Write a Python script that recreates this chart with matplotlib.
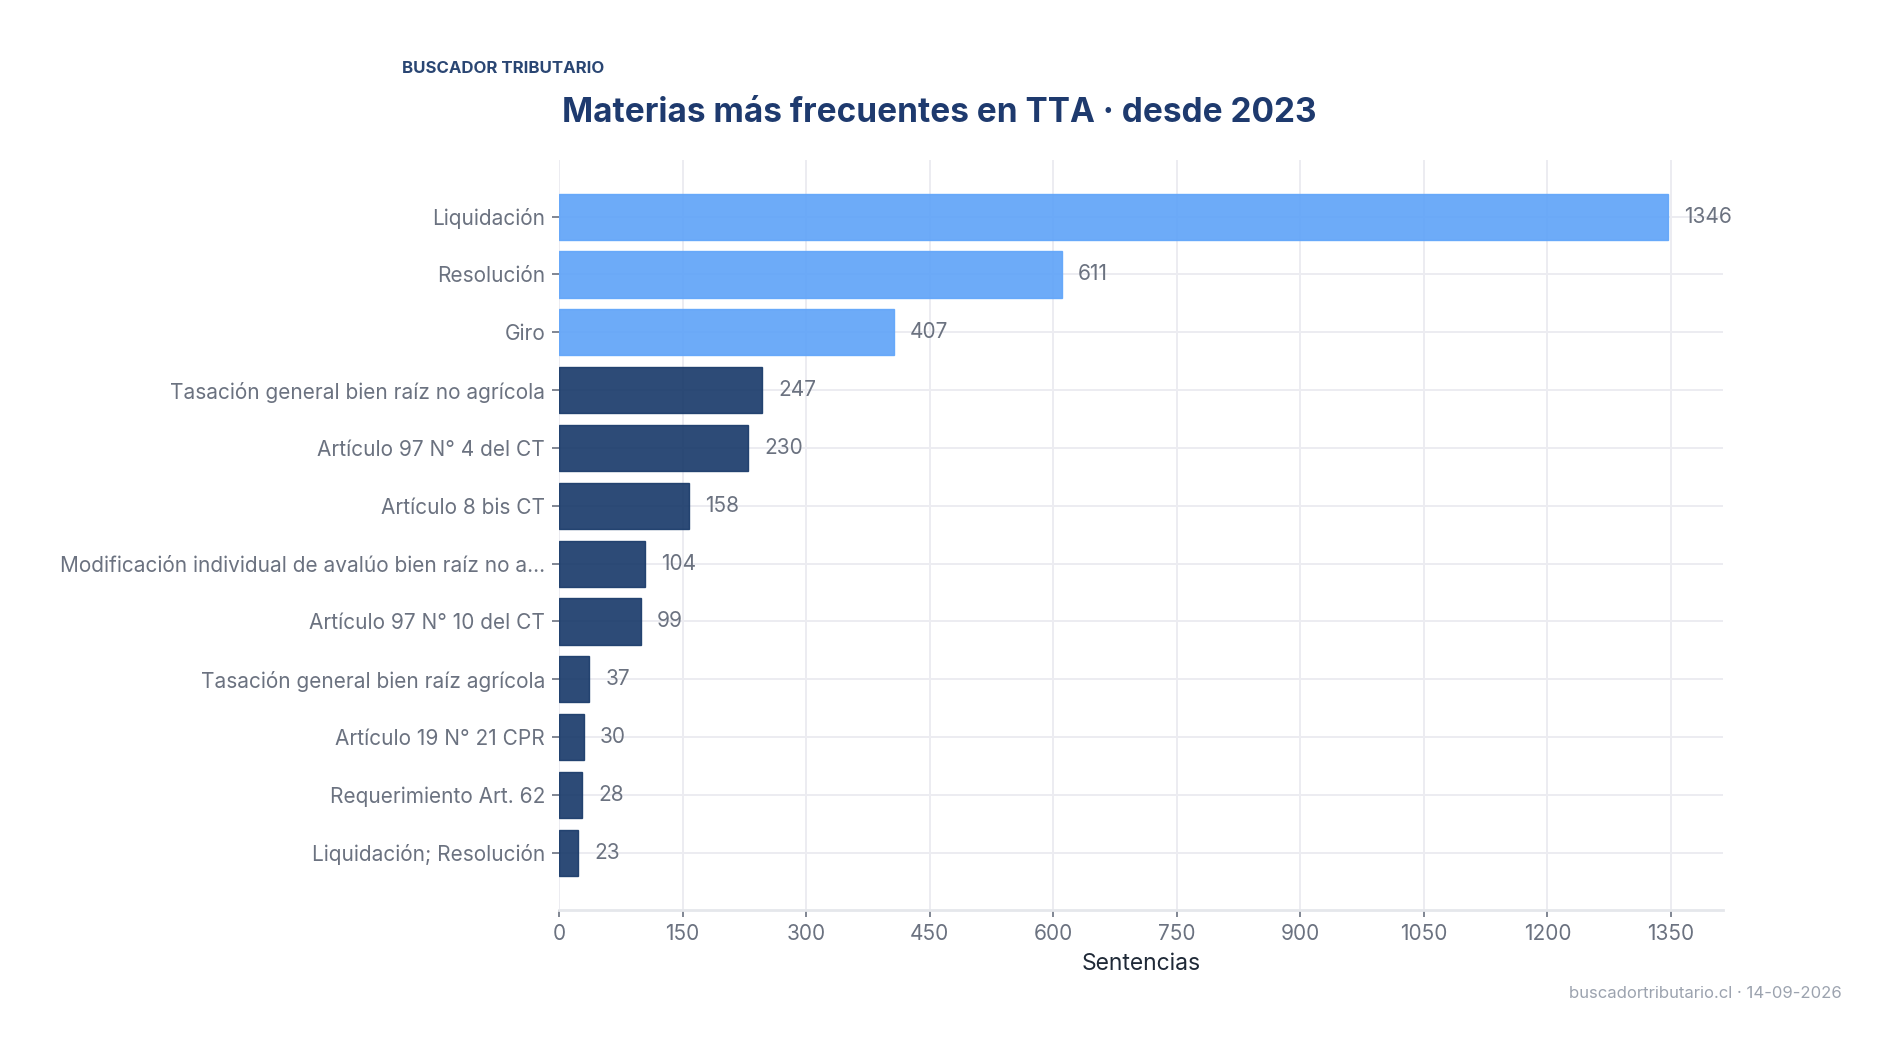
import matplotlib
matplotlib.use("Agg")
import matplotlib.pyplot as plt
import numpy as np

categories = [
    "Liquidación",
    "Resolución",
    "Giro",
    "Tasación general bien raíz no agrícola",
    "Artículo 97 N° 4 del CT",
    "Artículo 8 bis CT",
    "Modificación individual de avalúo bien raíz no a...",
    "Artículo 97 N° 10 del CT",
    "Tasación general bien raíz agrícola",
    "Artículo 19 N° 21 CPR",
    "Requerimiento Art. 62",
    "Liquidación; Resolución",
]
values = [1346, 611, 407, 247, 230, 158, 104, 99, 37, 30, 28, 23]
highlight_top = 3
x_ticks = [0, 150, 300, 450, 600, 750, 900, 1050, 1200, 1350]

plt.rcParams['font.family'] = ['Inter', 'DejaVu Sans']

LIGHT = "#5ea3f8"
DARK = "#183969"
GRID = "#ececf1"
TXT = "#6b7280"

fig = plt.figure(figsize=(19.02, 10.61), dpi=100)
ax = fig.add_axes([0.2939, 0.1423, 0.9059 - 0.2939, 0.8492 - 0.1423])

y = np.arange(len(categories))
colors = [LIGHT if i < highlight_top else DARK for i in range(len(categories))]
edges = ["#60a5fa" if i < highlight_top else DARK for i in range(len(categories))]
ax.barh(y, values, height=0.8, color=colors, alpha=0.91, edgecolor=edges,
        linewidth=1.0, zorder=2)

for yi, v in zip(y, values):
    ax.annotate(str(v), xy=(v, yi), xytext=(11.5, 0), textcoords="offset points",
                va="center", ha="left", fontsize=15, color=TXT)

ax.set_xlim(0, max(values) * 1.05)
ax.set_ylim(len(categories) - 1 + 0.99, -0.98)
ax.set_yticks(y)
ax.set_yticklabels(categories)
ax.set_xticks(x_ticks)
ax.set_xticklabels([str(t) for t in x_ticks])

ax.grid(True, color=GRID, linewidth=1.4, zorder=0)
ax.set_axisbelow(True)
for s in ["top", "right", "left"]:
    ax.spines[s].set_visible(False)
ax.spines["bottom"].set_color("#e5e7eb")
ax.spines["bottom"].set_linewidth(2)

ax.tick_params(axis="y", length=5, width=1.2, color=TXT, labelcolor=TXT,
               labelsize=15, pad=5)
ax.tick_params(axis="x", length=5, width=1.2, color=TXT, labelcolor=TXT,
               labelsize=15, pad=5)

ax.set_xlabel("Sentencias", fontsize=16.5, color="#1f2937", labelpad=6.5)

fig.text(562 / 1902, 1 - 112.5 / 1061, "Materias más frecuentes en TTA · desde 2023",
         fontsize=24, fontweight="bold", color="#1e3a6e", ha="left", va="center")
fig.text(402 / 1902, 1 - 68.5 / 1061, "BUSCADOR TRIBUTARIO",
         fontsize=12.1, fontweight="bold", color="#2a4673", ha="left", va="center")
fig.text(1842 / 1902, 1 - 993 / 1061, "buscadortributario.cl · 14-09-2026",
         fontsize=12, color="#9ca3af", ha="right", va="center")

fig.savefig("out.png", dpi=100, facecolor="white")
